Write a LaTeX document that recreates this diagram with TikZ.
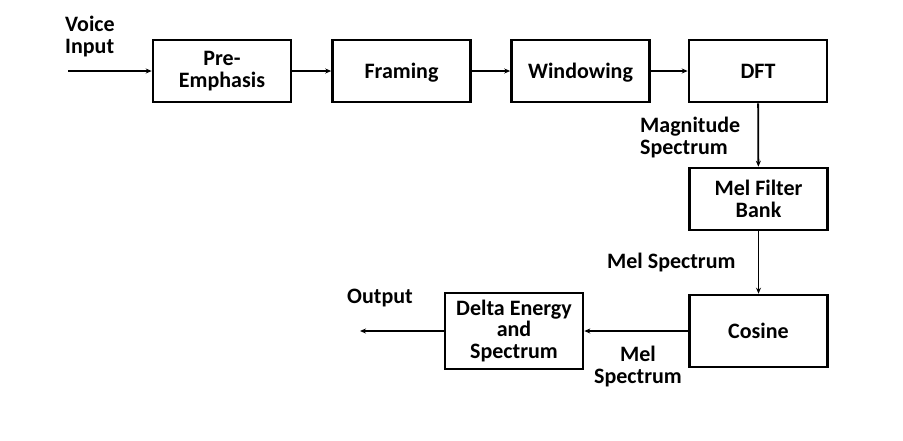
\documentclass[tikz,border=0pt]{standalone}
\usepackage{fontspec}
\setmainfont{Carlito}
\usetikzlibrary{arrows.meta}
\begin{document}
\begin{tikzpicture}[x=1pt,y=-1pt,
  font=\fontsize{22}{21.5}\selectfont\bfseries,
  block/.style={draw, line width=2.6pt, rectangle, align=center,
    minimum width=138pt, minimum height=62pt, inner sep=2pt},
  oneline/.style={text depth=0pt},
  flow/.style={line width=1.8pt, -{Stealth[length=6pt,width=5pt]}},
  lbl/.style={inner sep=0pt, align=left}]
  \useasboundingbox (0,0) rectangle (903,440);

  % signal chain, top row
  \node[block] (pre)   at (222,71)   {Pre-\\Emphasis};
  \node[block, oneline] (frame) at (401.5,71) {Framing};
  \node[block, oneline] (win)   at (580.5,71) {Windowing};
  \node[block] (dft)   at (758,71)   {DFT};
  % right column and bottom row
  \node[block] (mel)   at (758.5,199) {Mel Filter\\Bank};
  \node[block, minimum height=72pt] (cos)   at (758.5,331) {Cosine};
  \node[block, minimum height=76pt] (delta) at (514,331)   {Delta Energy\\and\\Spectrum};

  \coordinate (in)  at (68,71);
  \coordinate (out) at (360,331);

  \draw[flow] (in) -- (pre);
  \draw[flow] (pre) -- (frame);
  \draw[flow] (frame) -- (win);
  \draw[flow] (win) -- (dft);
  \draw[flow] (dft) -- (mel);
  \draw[flow] (mel) -- (cos);
  \draw[flow] (cos) -- (delta);
  \draw[flow] (delta) -- (out);

  % signal labels
  \node[lbl, anchor=north west] (lin)  at (65,16)   {Voice\\Input};
  \node[lbl, anchor=north west] (lmag) at (640,117) {Magnitude\\Spectrum};
  \node[lbl, anchor=west]       (lmel) at (607,263) {Mel Spectrum};
  \node[lbl, anchor=west]       (lout) at (347,298) {Output};
  \node[lbl, anchor=north, align=center] (lmel2) at (638,346) {Mel\\Spectrum};
\end{tikzpicture}
\end{document}
